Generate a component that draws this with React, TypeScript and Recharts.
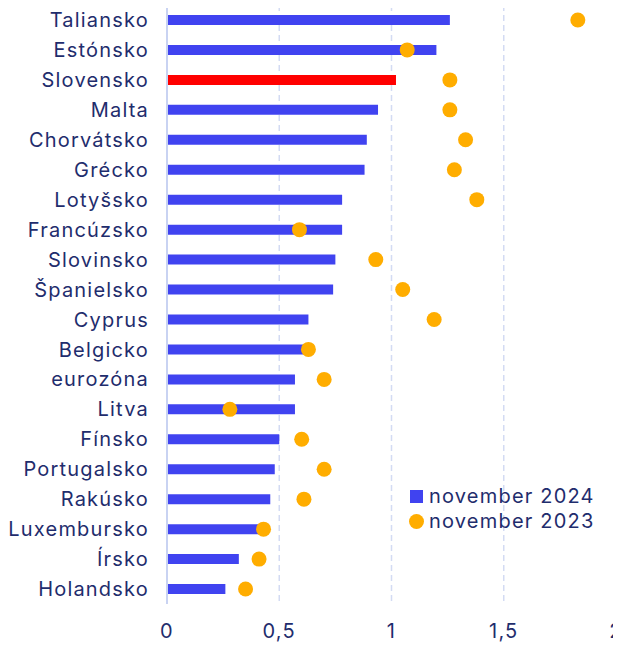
import React from 'react';
import { ComposedChart, Bar, Line, Cell, XAxis, YAxis, CartesianGrid } from 'recharts';

const countries = [
  'Taliansko', 'Estónsko', 'Slovensko', 'Malta', 'Chorvátsko', 'Grécko', 'Lotyšsko',
  'Francúzsko', 'Slovinsko', 'Španielsko', 'Cyprus', 'Belgicko', 'eurozóna', 'Litva',
  'Fínsko', 'Portugalsko', 'Rakúsko', 'Luxembursko', 'Írsko', 'Holandsko',
];
const nov2024 = [
  1.26, 1.2, 1.02, 0.94, 0.89, 0.88, 0.78,
  0.78, 0.75, 0.74, 0.63, 0.61, 0.57, 0.57,
  0.5, 0.48, 0.46, 0.42, 0.32, 0.26,
];
const nov2023 = [
  1.83, 1.07, 1.26, 1.26, 1.33, 1.28, 1.38,
  0.59, 0.93, 1.05, 1.19, 0.63, 0.7, 0.28,
  0.6, 0.7, 0.61, 0.43, 0.41, 0.35,
];
const xTicks = [0, 0.5, 1, 1.5, 2];

const data = countries.map((name, i) => ({ name, y2024: nov2024[i], y2023: nov2023[i] }));

const BLUE = '#4043f0';
const ORANGE = '#ffad00';
const TEXT = '#1f2d6d';
const FONT = 'Inter, sans-serif';

// legend drawn as plain html on top of the chart
const LegendBox = () => (
  <div
    style={{
      position: 'absolute', left: 409, top: 484,
      fontFamily: FONT, fontSize: 20, letterSpacing: 1.2, color: TEXT, lineHeight: '25px',
    }}
  >
    <div style={{ display: 'flex', alignItems: 'center' }}>
      <span style={{ width: 13, height: 13, background: BLUE, display: 'inline-block', marginRight: 6, marginLeft: 1 }} />
      november 2024
    </div>
    <div style={{ display: 'flex', alignItems: 'center' }}>
      <span style={{ width: 15, height: 15, borderRadius: '50%', background: ORANGE, display: 'inline-block', marginRight: 5 }} />
      november 2023
    </div>
  </div>
);

export default function App() {
  return (
    <div style={{ position: 'relative', margin: '-8px 0 0 -8px', width: 621, height: 645 }}>
      <ComposedChart
        layout="vertical"
        width={621}
        height={645}
        data={data}
        margin={{ top: 5, right: 5, left: 0, bottom: 5 }}
      >
        <CartesianGrid horizontal={false} strokeDasharray="6 4" stroke="#d3dbf3" strokeWidth={1.5} />
        <XAxis
          type="number"
          domain={[0, 2]}
          ticks={xTicks}
          axisLine={false}
          tickLine={false}
          tickMargin={14}
          height={36}
          tickFormatter={(v: number) => String(v).replace('.', ',')}
          tick={{ fontSize: 20, fill: TEXT, fontFamily: FONT, letterSpacing: 1.2 }}
          interval={0}
        />
        <YAxis
          type="category"
          dataKey="name"
          width={167}
          tickLine={false}
          axisLine={{ stroke: '#c9d3f2', strokeWidth: 2 }}
          tickMargin={12}
          interval={0}
          tick={{ fontSize: 20, fill: TEXT, fontFamily: FONT, letterSpacing: 1.2 }}
        />
        <Bar dataKey="y2024" name="november 2024" barSize={10} fill={BLUE} isAnimationActive={false}>
          {data.map((d) => (
            <Cell key={d.name} fill={d.name === 'Slovensko' ? '#ff0000' : BLUE} />
          ))}
        </Bar>
        <Line
          dataKey="y2023"
          name="november 2023"
          stroke="none"
          dot={{ r: 7.5, fill: ORANGE, stroke: 'none' }}
          activeDot={false}
          isAnimationActive={false}
        />
      </ComposedChart>
      <LegendBox />
    </div>
  );
}
